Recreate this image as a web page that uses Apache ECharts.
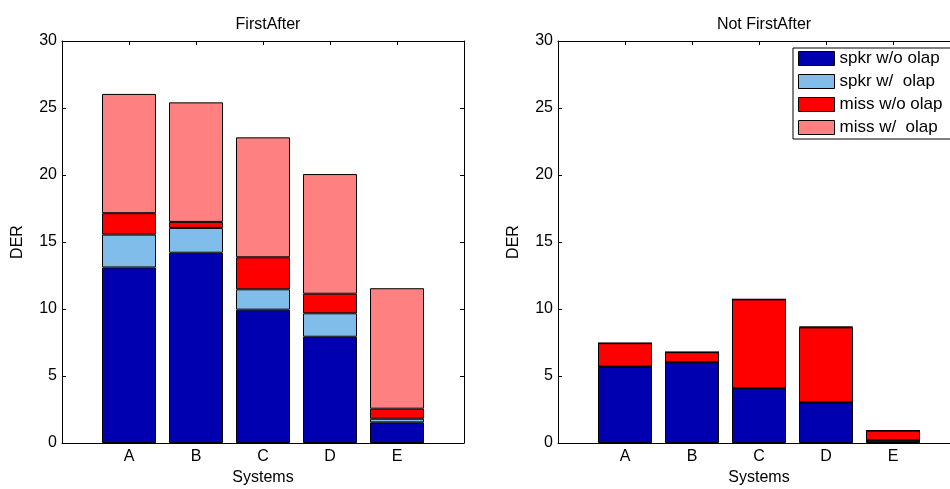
<!DOCTYPE html>
<html>
<head>
<meta charset="utf-8">
<script src="https://cdn.jsdelivr.net/npm/echarts@6/dist/echarts.min.js"></script>
<style>
  html, body { margin: 0; padding: 0; background: #fff; overflow: hidden; }
  #chart { width: 950px; height: 489px; }
</style>
</head>
<body>
<div id="chart"></div>
<script>
// Systems on the x axis
const systems = ['A', 'B', 'C', 'D', 'E'];
const segmentNames = ['spkr w/o olap', 'spkr w/  olap', 'miss w/o olap', 'miss w/  olap'];
const segmentColors = ['#0000B0', '#80BDEB', '#FF0000', '#FF8080'];
const panelTitles = ['FirstAfter', 'Not FirstAfter'];
const yTicks = [0, 5, 10, 15, 20, 25, 30];

// DER components, FirstAfter
const firstSpkrNoOlap = [13.1, 14.2, 9.95, 7.93, 1.54];
const firstSpkrOlap   = [2.45, 1.85, 1.52, 1.75, 0.27];
const firstMissNoOlap = [1.6, 0.45, 2.39, 1.46, 0.75];
const firstMissOlap   = [8.9, 8.92, 8.95, 8.93, 8.99];

// DER components, Not FirstAfter
const notSpkrNoOlap = [5.7, 6.03, 4.08, 3.03, 0.2];
const notSpkrOlap   = [0, 0, 0, 0, 0];
const notMissNoOlap = [1.75, 0.75, 6.64, 5.6, 0.72];
const notMissOlap   = [0, 0, 0, 0.05, 0];

const panels = [
  [firstSpkrNoOlap, firstSpkrOlap, firstMissNoOlap, firstMissOlap],
  [notSpkrNoOlap, notSpkrOlap, notMissNoOlap, notMissOlap]
];

// one empty slot on each side of the systems, so the axis runs from 0 to 6
const xCategories = [''].concat(systems, [' ']);

const FONT = 'Liberation Sans, Arial, Helvetica, sans-serif';
const FS = 16;
const gridLefts = [62, 558];
const PLOT_TOP = 41, PLOT_W = 402, PLOT_H = 402;

const axisLine = { show: true, onZero: false, lineStyle: { color: '#000', width: 1 } };
const tickIn = { show: true, inside: true, length: 4, lineStyle: { color: '#000' } };

const grids = [], xAxes = [], yAxes = [], series = [], titles = [];

gridLefts.forEach((left, p) => {
  grids.push({
    left: left, top: PLOT_TOP, width: PLOT_W, height: PLOT_H,
    containLabel: false, outerBoundsMode: 'none'
  });
  titles.push({
    text: panelTitles[p],
    left: left + PLOT_W / 2, top: 12, textAlign: 'center',
    textStyle: { fontFamily: FONT, fontSize: FS, fontWeight: 'normal', color: '#000' }
  });
  // bottom x axis (labels) and top x axis (box edge)
  xAxes.push({
    type: 'category', gridIndex: p, position: 'bottom', data: xCategories, boundaryGap: false,
    name: 'Systems', nameLocation: 'middle', nameGap: 25,
    nameTextStyle: { fontFamily: FONT, fontSize: FS, color: '#000' },
    axisLine: axisLine, axisTick: tickIn, splitLine: { show: false },
    axisLabel: { fontFamily: FONT, fontSize: FS, color: '#000', margin: 6, interval: 0 }
  });
  xAxes.push({
    type: 'category', gridIndex: p, position: 'top', data: xCategories, boundaryGap: false,
    axisLine: axisLine, axisTick: tickIn, axisLabel: { show: false }, splitLine: { show: false }
  });
  // left y axis (labels) and right y axis (box edge)
  yAxes.push({
    type: 'value', gridIndex: p, position: 'left', min: yTicks[0], max: yTicks[yTicks.length - 1],
    interval: yTicks[1] - yTicks[0],
    name: 'DER', nameLocation: 'middle', nameGap: 36, nameRotate: 90,
    nameTextStyle: { fontFamily: FONT, fontSize: FS, color: '#000' },
    axisLine: axisLine, axisTick: tickIn, splitLine: { show: false },
    axisLabel: { fontFamily: FONT, fontSize: FS, color: '#000', margin: 5 }
  });
  yAxes.push({
    type: 'value', gridIndex: p, position: 'right', min: yTicks[0], max: yTicks[yTicks.length - 1],
    interval: yTicks[1] - yTicks[0],
    axisLine: axisLine, axisTick: tickIn, axisLabel: { show: false }, splitLine: { show: false }
  });

  panels[p].forEach((values, s) => {
    series.push({
      type: 'bar',
      name: segmentNames[s],
      xAxisIndex: p * 2,
      yAxisIndex: p * 2,
      stack: 'der' + p,
      barWidth: 54,
      itemStyle: { color: segmentColors[s], borderColor: '#000', borderWidth: 1 },
      emphasis: { disabled: true },
      data: ['-'].concat(values, ['-'])
    });
  });
});

const chart = echarts.init(document.getElementById('chart'), null, { renderer: 'canvas' });
chart.setOption({
  animation: false,
  title: titles,
  grid: grids,
  xAxis: xAxes,
  yAxis: yAxes,
  legend: {
    data: segmentNames,
    orient: 'vertical',
    left: 793, top: 48,
    itemWidth: 36, itemHeight: 14, itemGap: 6,
    padding: [2, 30, 3, 5],
    backgroundColor: '#fff',
    borderColor: '#000', borderWidth: 1, borderRadius: 0,
    icon: 'rect',
    itemStyle: { borderColor: '#000', borderWidth: 1 },
    textStyle: { fontFamily: FONT, fontSize: 17, lineHeight: 17, color: '#000' },
    selectedMode: false
  },
  series: series
});
</script>
</body>
</html>
